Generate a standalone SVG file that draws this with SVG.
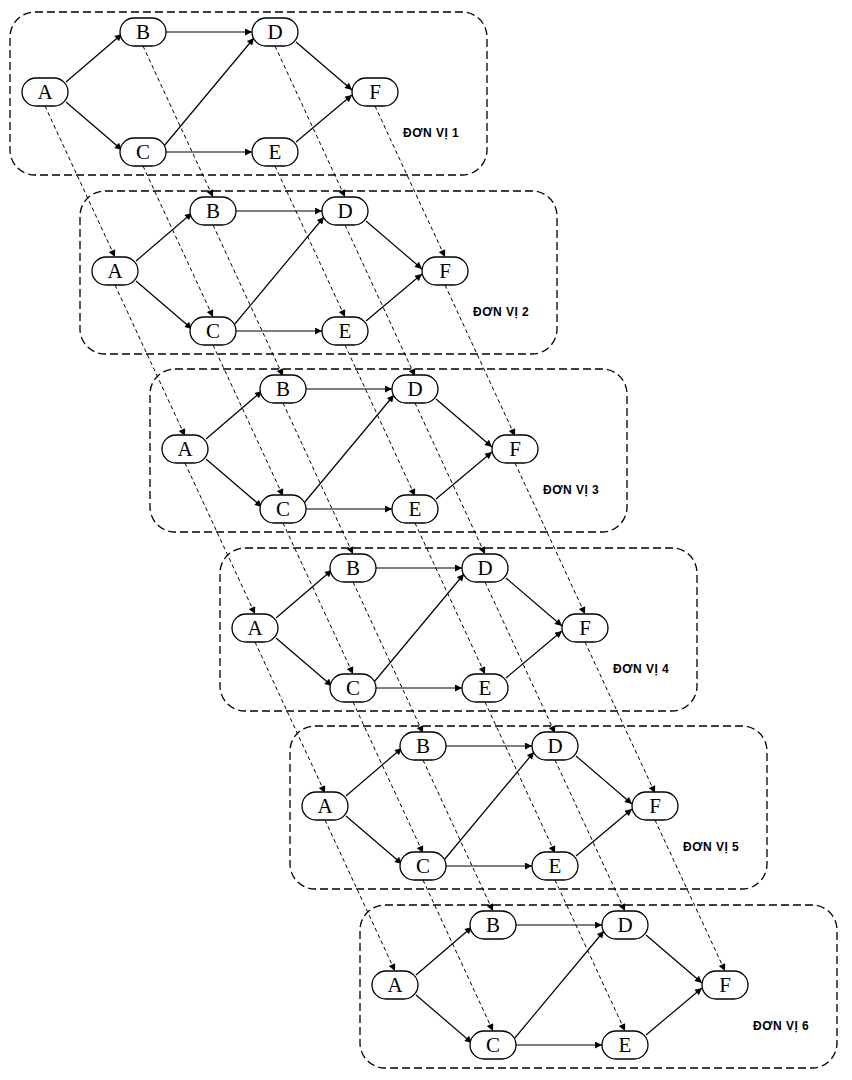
<svg xmlns="http://www.w3.org/2000/svg" xmlns:xlink="http://www.w3.org/1999/xlink" width="852" height="1080" viewBox="0 0 852 1080">
<style>
.box{fill:none;stroke:#000;stroke-width:1.3;stroke-dasharray:8,4}
.nd rect{fill:#fff;stroke:#000;stroke-width:1.3}
.nd text{font-family:"Liberation Serif",serif;font-size:21px;text-anchor:middle;fill:#000}
.lbl{font-family:"Liberation Sans",sans-serif;font-weight:bold;font-size:12px;letter-spacing:0.5px;fill:#000}
.e{stroke:#000;stroke-width:1.2;fill:none;marker-end:url(#ah)}
.d{stroke:#000;stroke-width:1;fill:none;stroke-dasharray:4,3;marker-end:url(#ah)}
</style>
<defs>
<marker id="ah" viewBox="0 0 10 10" refX="10" refY="5" markerWidth="8" markerHeight="7" markerUnits="userSpaceOnUse" orient="auto"><path d="M0,0L10,5L0,10z" fill="#000"/></marker>
<g id="unitedges">
<path class="e" d="M66,82L122,34"/>
<path class="e" d="M66,102L122,150"/>
<path class="e" d="M166,32L252,32"/>
<path class="e" d="M164,146L254,38"/>
<path class="e" d="M166,152L252,152"/>
<path class="e" d="M296,42L352,90"/>
<path class="e" d="M296,142L352,95"/>
</g>
<g id="unitdash">
<path class="d" d="M45,106L115,257"/>
<path class="d" d="M143,46L213,197"/>
<path class="d" d="M143,166L213,317"/>
<path class="d" d="M275,46L345,197"/>
<path class="d" d="M275,166L345,317"/>
<path class="d" d="M375,106L445,257"/>
</g>
</defs>
<g id="units">
<rect class="box" x="10" y="12" width="477" height="163" rx="25"/>
<rect class="box" x="80" y="191" width="477" height="163" rx="25"/>
<rect class="box" x="150" y="369" width="477" height="163" rx="25"/>
<rect class="box" x="220" y="548" width="477" height="163" rx="25"/>
<rect class="box" x="290" y="726" width="477" height="163" rx="25"/>
<rect class="box" x="360" y="905" width="477" height="163" rx="25"/>
<text class="lbl" x="403" y="137">ĐƠN VỊ 1</text>
<text class="lbl" x="473" y="316">ĐƠN VỊ 2</text>
<text class="lbl" x="543" y="494">ĐƠN VỊ 3</text>
<text class="lbl" x="613" y="673">ĐƠN VỊ 4</text>
<text class="lbl" x="683" y="851">ĐƠN VỊ 5</text>
<text class="lbl" x="753" y="1030">ĐƠN VỊ 6</text>
</g>
<g id="connectors">
<use xlink:href="#unitedges"/>
<use xlink:href="#unitedges" transform="translate(70,179)"/>
<use xlink:href="#unitedges" transform="translate(140,357)"/>
<use xlink:href="#unitedges" transform="translate(210,536)"/>
<use xlink:href="#unitedges" transform="translate(280,714)"/>
<use xlink:href="#unitedges" transform="translate(350,893)"/>
<use xlink:href="#unitdash"/>
<use xlink:href="#unitdash" transform="translate(70,179)"/>
<use xlink:href="#unitdash" transform="translate(140,357)"/>
<use xlink:href="#unitdash" transform="translate(210,536)"/>
<use xlink:href="#unitdash" transform="translate(280,714)"/>
</g>
<g id="nodes-1">
<g id="A1" class="nd"><rect x="22" y="78" width="46" height="28" rx="14"/><text x="45" y="99">A</text></g>
<g id="B1" class="nd"><rect x="120" y="18" width="46" height="28" rx="14"/><text x="143" y="39">B</text></g>
<g id="C1" class="nd"><rect x="120" y="138" width="46" height="28" rx="14"/><text x="143" y="159">C</text></g>
<g id="D1" class="nd"><rect x="252" y="18" width="46" height="28" rx="14"/><text x="275" y="39">D</text></g>
<g id="E1" class="nd"><rect x="252" y="138" width="46" height="28" rx="14"/><text x="275" y="159">E</text></g>
<g id="F1" class="nd"><rect x="352" y="78" width="46" height="28" rx="14"/><text x="375" y="99">F</text></g>
</g>
<g id="nodes-2" transform="translate(70,179)">
<g id="A2" class="nd"><rect x="22" y="78" width="46" height="28" rx="14"/><text x="45" y="99">A</text></g>
<g id="B2" class="nd"><rect x="120" y="18" width="46" height="28" rx="14"/><text x="143" y="39">B</text></g>
<g id="C2" class="nd"><rect x="120" y="138" width="46" height="28" rx="14"/><text x="143" y="159">C</text></g>
<g id="D2" class="nd"><rect x="252" y="18" width="46" height="28" rx="14"/><text x="275" y="39">D</text></g>
<g id="E2" class="nd"><rect x="252" y="138" width="46" height="28" rx="14"/><text x="275" y="159">E</text></g>
<g id="F2" class="nd"><rect x="352" y="78" width="46" height="28" rx="14"/><text x="375" y="99">F</text></g>
</g>
<g id="nodes-3" transform="translate(140,357)">
<g id="A3" class="nd"><rect x="22" y="78" width="46" height="28" rx="14"/><text x="45" y="99">A</text></g>
<g id="B3" class="nd"><rect x="120" y="18" width="46" height="28" rx="14"/><text x="143" y="39">B</text></g>
<g id="C3" class="nd"><rect x="120" y="138" width="46" height="28" rx="14"/><text x="143" y="159">C</text></g>
<g id="D3" class="nd"><rect x="252" y="18" width="46" height="28" rx="14"/><text x="275" y="39">D</text></g>
<g id="E3" class="nd"><rect x="252" y="138" width="46" height="28" rx="14"/><text x="275" y="159">E</text></g>
<g id="F3" class="nd"><rect x="352" y="78" width="46" height="28" rx="14"/><text x="375" y="99">F</text></g>
</g>
<g id="nodes-4" transform="translate(210,536)">
<g id="A4" class="nd"><rect x="22" y="78" width="46" height="28" rx="14"/><text x="45" y="99">A</text></g>
<g id="B4" class="nd"><rect x="120" y="18" width="46" height="28" rx="14"/><text x="143" y="39">B</text></g>
<g id="C4" class="nd"><rect x="120" y="138" width="46" height="28" rx="14"/><text x="143" y="159">C</text></g>
<g id="D4" class="nd"><rect x="252" y="18" width="46" height="28" rx="14"/><text x="275" y="39">D</text></g>
<g id="E4" class="nd"><rect x="252" y="138" width="46" height="28" rx="14"/><text x="275" y="159">E</text></g>
<g id="F4" class="nd"><rect x="352" y="78" width="46" height="28" rx="14"/><text x="375" y="99">F</text></g>
</g>
<g id="nodes-5" transform="translate(280,714)">
<g id="A5" class="nd"><rect x="22" y="78" width="46" height="28" rx="14"/><text x="45" y="99">A</text></g>
<g id="B5" class="nd"><rect x="120" y="18" width="46" height="28" rx="14"/><text x="143" y="39">B</text></g>
<g id="C5" class="nd"><rect x="120" y="138" width="46" height="28" rx="14"/><text x="143" y="159">C</text></g>
<g id="D5" class="nd"><rect x="252" y="18" width="46" height="28" rx="14"/><text x="275" y="39">D</text></g>
<g id="E5" class="nd"><rect x="252" y="138" width="46" height="28" rx="14"/><text x="275" y="159">E</text></g>
<g id="F5" class="nd"><rect x="352" y="78" width="46" height="28" rx="14"/><text x="375" y="99">F</text></g>
</g>
<g id="nodes-6" transform="translate(350,893)">
<g id="A6" class="nd"><rect x="22" y="78" width="46" height="28" rx="14"/><text x="45" y="99">A</text></g>
<g id="B6" class="nd"><rect x="120" y="18" width="46" height="28" rx="14"/><text x="143" y="39">B</text></g>
<g id="C6" class="nd"><rect x="120" y="138" width="46" height="28" rx="14"/><text x="143" y="159">C</text></g>
<g id="D6" class="nd"><rect x="252" y="18" width="46" height="28" rx="14"/><text x="275" y="39">D</text></g>
<g id="E6" class="nd"><rect x="252" y="138" width="46" height="28" rx="14"/><text x="275" y="159">E</text></g>
<g id="F6" class="nd"><rect x="352" y="78" width="46" height="28" rx="14"/><text x="375" y="99">F</text></g>
</g>
</svg>
